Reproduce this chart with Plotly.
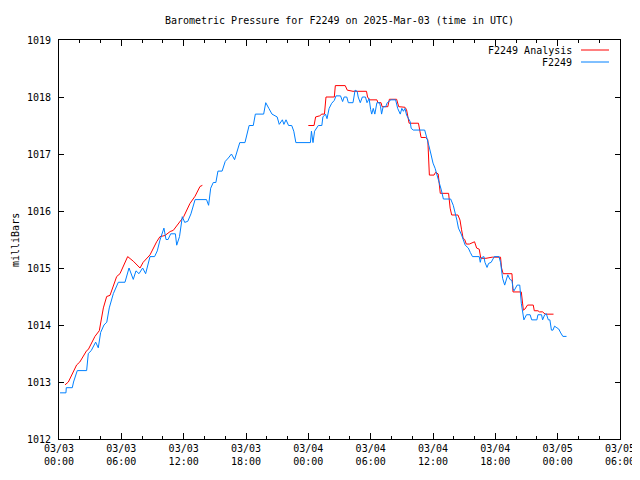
import pandas as pd
import plotly.graph_objects as go

# ---- data (hours since 2025-03-03 00:00 UTC, pressure mb) ----
obs_hours = [0.1, 0.67, 0.7, 1.28, 1.4, 1.6, 1.76, 2.66, 2.82, 3.1, 3.53, 3.78, 4.01, 4.33, 4.6, 4.84,
             5.23, 5.71, 6.35, 6.74, 7.15, 7.41, 7.7, 8.05, 8.34, 8.76, 9.2, 9.46, 9.72, 10.1, 10.3,
             10.5, 10.75, 11.2, 11.33, 11.6, 11.87, 12.1, 12.4, 12.7, 13.1, 14.2, 14.4, 14.6, 14.85,
             15.1, 15.3, 15.7, 16.0, 16.3, 16.6, 16.9, 17.2, 17.4, 17.9, 18.1, 18.3, 18.7, 18.9, 19.7,
             19.9, 20.2, 20.5, 21.0, 21.2, 21.5, 21.65, 21.85, 22.1, 22.4, 22.6, 22.8, 24.2, 24.3,
             24.45, 24.6, 24.96, 25.3, 25.4, 25.65, 25.8, 26.0, 26.25, 26.5, 26.66, 27.1, 27.3, 27.45,
             27.7, 27.85, 28.3, 28.5, 28.7, 28.8, 29.0, 29.2, 29.5, 29.65, 29.85, 30.0, 30.1, 30.25,
             30.4, 30.6, 30.85, 30.95, 31.05, 31.2, 31.45, 31.6, 31.95, 32.4, 32.6, 32.85, 33.0,
             33.15, 33.3, 33.46, 33.8, 33.9, 34.1, 35.2, 35.45, 35.6, 35.8, 35.9, 36.0, 36.2, 36.5,
             36.8, 37.0, 37.7, 37.95, 38.1, 38.3, 38.45, 38.75, 39.1, 39.4, 39.6, 39.8, 40.45, 40.55,
             40.65, 40.9, 41.0, 41.2, 41.35, 41.6, 41.9, 42.35, 42.5, 42.6, 42.7, 42.9, 43.2, 43.4,
             43.6, 43.7, 43.8, 44.1, 44.35, 44.5, 44.6, 44.75, 45.0, 45.35, 45.5, 46.0, 46.1, 46.45,
             46.55, 46.75, 46.9, 47.1, 47.25, 47.4, 47.55, 47.7, 47.85, 48.1, 48.3, 48.5, 48.85]
obs_mb = [1012.81, 1012.81, 1012.9, 1012.9, 1013.0, 1013.1, 1013.2, 1013.2, 1013.5, 1013.55, 1013.7,
          1013.6, 1013.87, 1014.0, 1014.05, 1014.3, 1014.55, 1014.75, 1014.75, 1015.0, 1014.8,
          1014.95, 1014.9, 1015.0, 1014.9, 1015.2, 1015.2, 1015.3, 1015.49, 1015.7, 1015.5, 1015.5,
          1015.6, 1015.6, 1015.4, 1015.55, 1015.9, 1015.8, 1015.82, 1015.95, 1016.2, 1016.2, 1016.1,
          1016.4, 1016.5, 1016.5, 1016.7, 1016.7, 1016.87, 1016.93, 1017.0, 1016.9, 1017.1, 1017.2,
          1017.2, 1017.36, 1017.5, 1017.5, 1017.7, 1017.7, 1017.9, 1017.8, 1017.7, 1017.65, 1017.52,
          1017.6, 1017.52, 1017.6, 1017.5, 1017.5, 1017.4, 1017.2, 1017.2, 1017.4, 1017.2, 1017.4,
          1017.5, 1017.5, 1017.65, 1017.7, 1017.62, 1017.8, 1017.89, 1017.94, 1018.02, 1018.02,
          1017.92, 1018.0, 1018.0, 1017.9, 1017.9, 1018.12, 1018.1, 1018.0, 1017.9, 1018.0, 1018.0,
          1017.9, 1017.97, 1017.78, 1017.7, 1017.8, 1017.7, 1017.9, 1017.9, 1017.83, 1017.7,
          1017.83, 1017.83, 1017.9, 1017.95, 1017.95, 1017.8, 1017.7, 1017.8, 1017.75, 1017.8,
          1017.68, 1017.57, 1017.45, 1017.42, 1017.42, 1017.27, 1017.15, 1017.0, 1016.92, 1016.84,
          1016.75, 1016.57, 1016.37, 1016.21, 1016.21, 1016.1, 1016.0, 1015.84, 1015.7, 1015.58,
          1015.4, 1015.35, 1015.27, 1015.2, 1015.2, 1015.1, 1015.18, 1015.2, 1015.1, 1015.01,
          1015.08, 1015.1, 1015.2, 1015.2, 1015.1, 1014.96, 1014.82, 1014.7, 1014.88, 1014.8,
          1014.78, 1014.64, 1014.6, 1014.7, 1014.7, 1014.38, 1014.23, 1014.09, 1014.18, 1014.18,
          1014.09, 1014.09, 1014.18, 1014.18, 1014.09, 1014.18, 1014.2, 1014.09, 1014.09, 1013.91,
          1013.91, 1013.98, 1013.96, 1013.93, 1013.86, 1013.8, 1013.8]

ana1_hours = [0.58, 0.9, 1.7, 2.0, 2.66, 2.82, 3.46, 3.88, 4.27, 4.59, 4.91, 5.55, 5.87, 6.61, 7.15,
              7.8, 8.1, 8.76, 9.4, 9.72, 10.2, 10.7, 11.0, 11.5, 12.0, 12.6, 13.1, 13.57, 13.8]
ana1_mb = [1012.95, 1013.0, 1013.3, 1013.35, 1013.55, 1013.57, 1013.8, 1013.9, 1014.3, 1014.5,
           1014.52, 1014.85, 1014.9, 1015.2, 1015.12, 1015.0, 1015.1, 1015.23, 1015.46, 1015.55,
           1015.57, 1015.64, 1015.66, 1015.78, 1015.9, 1016.13, 1016.26, 1016.43, 1016.45]

ana2_hours = [24.0, 24.55, 24.7, 25.1, 25.3, 25.55, 25.7, 26.5, 26.6, 27.55, 27.75, 28.3, 29.6, 29.7,
              29.9, 30.6, 30.7, 31.0, 31.1, 31.65, 31.8, 32.5, 32.7, 33.3, 33.45, 33.6, 33.7, 34.6,
              34.75, 34.85, 35.3, 35.5, 35.65, 36.1, 36.25, 36.5, 36.7, 37.5, 37.65, 37.8, 38.4,
              38.6, 38.75, 38.9, 39.05, 39.2, 39.5, 40.0, 40.2, 40.45, 40.6, 41.1, 41.7, 42.5, 42.6,
              42.75, 43.6, 43.7, 44.5, 44.7, 44.85, 45.1, 45.65, 45.75, 46.1, 46.25, 46.55, 46.8, 47.6]
ana2_mb = [1017.5, 1017.5, 1017.65, 1017.67, 1017.7, 1017.7, 1018.0, 1018.0, 1018.2, 1018.2,
           1018.12, 1018.1, 1018.1, 1018.0, 1017.95, 1017.95, 1017.9, 1017.9, 1017.83, 1017.83,
           1017.96, 1017.96, 1017.83, 1017.82, 1017.78, 1017.65, 1017.54, 1017.54, 1017.42, 1017.29,
           1017.29, 1017.25, 1016.63, 1016.63, 1016.68, 1016.65, 1016.31, 1016.31, 1016.05, 1015.93,
           1015.93, 1015.84, 1015.67, 1015.52, 1015.5, 1015.42, 1015.42, 1015.46, 1015.35, 1015.33,
           1015.17, 1015.17, 1015.19, 1015.19, 1015.0, 1014.9, 1014.9, 1014.58, 1014.58, 1014.26,
           1014.28, 1014.35, 1014.35, 1014.25, 1014.25, 1014.23, 1014.23, 1014.19, 1014.19]

x_tick_hours = [0, 6, 12, 18, 24, 30, 36, 42, 48, 54]
x_tick_labels = ["03/03<br>00:00", "03/03<br>06:00", "03/03<br>12:00", "03/03<br>18:00",
                 "03/04<br>00:00", "03/04<br>06:00", "03/04<br>12:00", "03/04<br>18:00",
                 "03/05<br>00:00", "03/05<br>06:00"]
y_ticks = [1012, 1013, 1014, 1015, 1016, 1017, 1018, 1019]

base = pd.Timestamp("2025-03-03 00:00")


def to_time(hours):
    return [base + pd.Timedelta(hours=h) for h in hours]


red_x = to_time(ana1_hours) + [None] + to_time(ana2_hours)
red_y = ana1_mb + [None] + ana2_mb

FONT = "DejaVu Sans Mono"
RED = "#ff0000"
BLUE = "#0080ff"

# the page shows the figure offset by the default 8px body margin
W, H = 632, 472
OFF = 8

fig = go.Figure()
fig.add_trace(go.Scatter(x=red_x, y=red_y, mode="lines", name="F2249 Analysis",
                         line=dict(color=RED, width=1), connectgaps=False))
fig.add_trace(go.Scatter(x=to_time(obs_hours), y=obs_mb, mode="lines", name="F2249",
                         line=dict(color=BLUE, width=1)))

fig.update_layout(
    width=W, height=H,
    margin=dict(l=59 - OFF, r=W - (620 - OFF), t=40 - OFF, b=H - (439 - OFF), autoexpand=False),
    paper_bgcolor="white", plot_bgcolor="white",
    showlegend=False,
    font=dict(family=FONT, size=10, color="black"),
    title=dict(text="Barometric Pressure for F2249 on 2025-Mar-03 (time in UTC)",
               x=(339.5 - OFF) / W, xanchor="center", xref="container",
               y=1 - (20 - OFF) / H, yanchor="middle", yref="container",
               font=dict(family=FONT, size=10, color="black")),
)

fig.update_xaxes(
    range=[base, base + pd.Timedelta(hours=54)],
    tickmode="array", tickvals=to_time(x_tick_hours), ticktext=x_tick_labels,
    ticks="inside", ticklen=6, tickwidth=1, tickcolor="black",
    minor=dict(dtick=2 * 3600 * 1000, ticks="inside", ticklen=3, tickcolor="black", showgrid=False),
    showline=True, linecolor="black", linewidth=1, mirror="ticks",
    showgrid=False, zeroline=False, automargin=False,
    tickfont=dict(family=FONT, size=10, color="black"),
)
fig.update_yaxes(
    range=[1012, 1019],
    tickmode="array", tickvals=y_ticks, ticktext=[str(v) for v in y_ticks],
    ticks="inside", ticklen=5, tickwidth=1, tickcolor="black",
    showline=True, linecolor="black", linewidth=1, mirror="ticks",
    showgrid=False, zeroline=False, automargin=False,
    ticklabelstandoff=5,
    tickfont=dict(family=FONT, size=10, color="black"),
)

# y axis label (kept inside the figure's left edge)
fig.add_annotation(text="milliBars", xref="paper", yref="paper",
                   x=(15 - 59) / 561, y=(439 - 240) / 399, textangle=-90,
                   showarrow=False, xanchor="center", yanchor="middle",
                   font=dict(family=FONT, size=10, color="black"))

# gnuplot-style key (text then sample line)
key_entries = [("F2249 Analysis", RED, 50), ("F2249", BLUE, 62)]
for label, color, ypix in key_entries:
    yp = (439 - ypix) / 399
    fig.add_annotation(text=label, xref="paper", yref="paper", x=(574 - 59) / 561, y=yp,
                       xanchor="right", yanchor="middle", showarrow=False,
                       font=dict(family=FONT, size=10, color="black"))
    fig.add_shape(type="line", xref="paper", yref="paper",
                  x0=(581 - 59) / 561, x1=(609 - 59) / 561, y0=yp, y1=yp,
                  line=dict(color=color, width=1))

fig.write_html("out.html")
